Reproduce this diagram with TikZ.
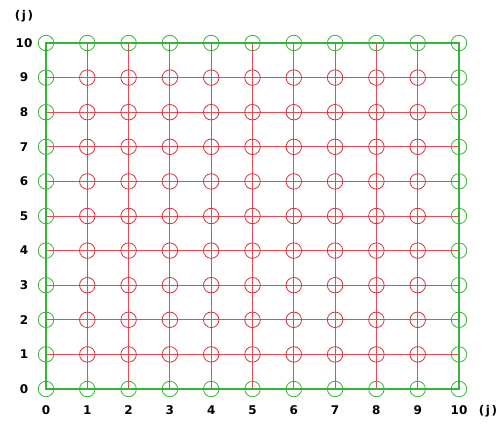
\documentclass[tikz,border=0pt]{standalone}
\usepackage{fontspec}
\setmainfont{DejaVu Sans}
\definecolor{gridred}{RGB}{214,50,60}
\definecolor{frgreen}{RGB}{55,180,55}
\begin{document}
\begin{tikzpicture}[x=1pt,y=-1pt,
  gline/.style={gridred!85,line width=0.9pt},
  frame/.style={frgreen,line width=2.8pt},
  rc/.style={circle,draw=gridred,line width=0.8pt,minimum size=15.5pt,inner sep=0pt},
  gc/.style={circle,draw=frgreen,line width=0.8pt,minimum size=15.5pt,inner sep=0pt},
  lab/.style={font=\fontsize{12}{14}\selectfont\bfseries,inner sep=0pt}]
\useasboundingbox (0,0) rectangle (500,424);
\def\xo{46}\def\dx{41.3}\def\yo{389}\def\dy{34.6}
% coordinates
\foreach \i in {0,...,10}{
  \foreach \j in {0,...,10}{
    \coordinate (p\i-\j) at ({\xo+\dx*\i},{\yo-\dy*\j});
  }
}
% grid lines
\foreach \i in {1,...,9}{
  \draw[gline] (p\i-0) -- (p\i-10);
  \draw[gline] (p0-\i) -- (p10-\i);
}
% frame
\draw[frame] (p0-0) -- (p10-0) -- (p10-10) -- (p0-10) -- cycle;
% circles
\foreach \i in {0,...,10}{
  \foreach \j in {0,...,10}{
    \pgfmathtruncatemacro{\edge}{(\i==0)||(\i==10)||(\j==0)||(\j==10)}
    \ifnum\edge=1
      \node[gc] (c\i-\j) at (p\i-\j) {};
    \else
      \node[rc] (c\i-\j) at (p\i-\j) {};
    \fi
  }
}
% labels
\foreach \i in {0,...,10}{
  \node[lab] (xl\i) at ({\xo+\dx*\i},410) {\i};
  \node[lab] (yl\i) at (24,{\yo-\dy*\i}) {\i};
}
\node[lab] (jt) at (24,16) {(\kern1.5pt j\kern1.5pt)};
\node[lab] (jr) at (488,411) {(\kern1.5pt j\kern1.5pt)};
\end{tikzpicture}
\end{document}
